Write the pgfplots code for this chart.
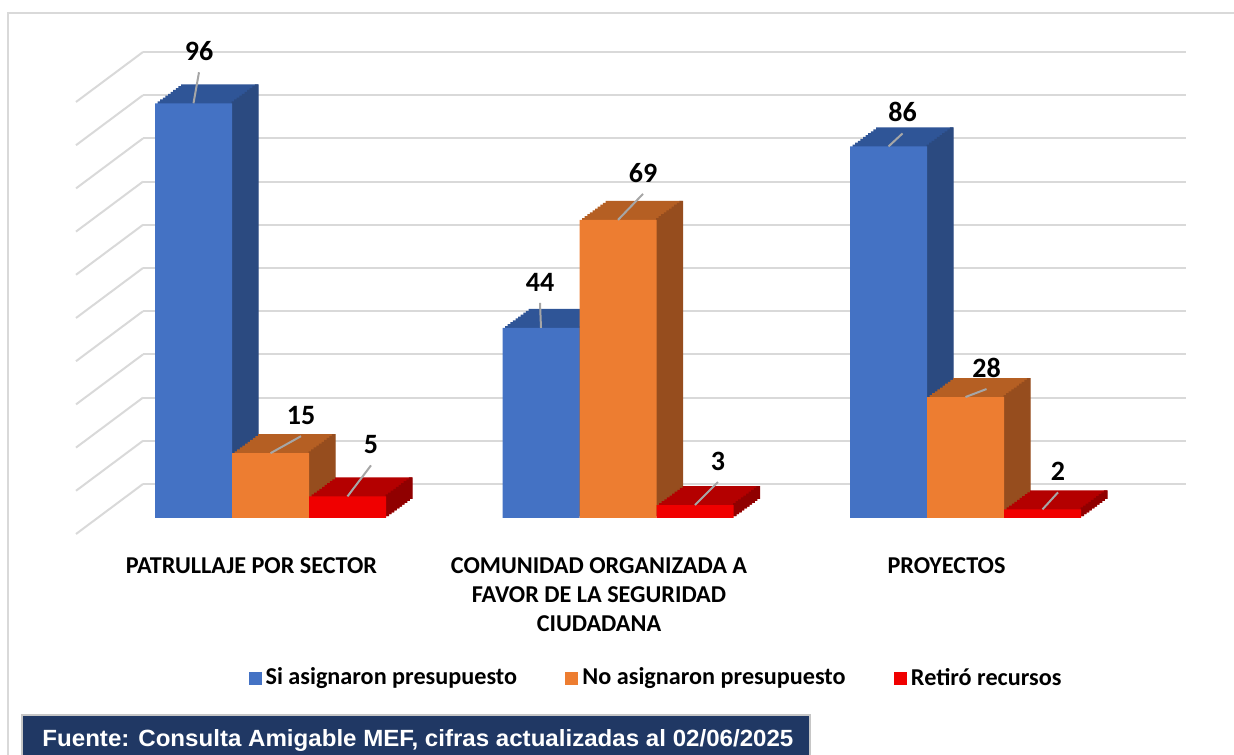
\documentclass[border=0pt]{standalone}
\usepackage{pgfplots}
\pgfplotsset{compat=1.18}
\usepackage{pgfplotstable}
\usepackage{fontspec}
\setmainfont{Carlito}
\newfontfamily\arialf{Liberation Sans}
\usetikzlibrary{calc}

\definecolor{bfront}{HTML}{4472C4}
\definecolor{btop}{HTML}{2F5597}
\definecolor{bside}{HTML}{2B4A80}
\definecolor{ofront}{HTML}{ED7D31}
\definecolor{otop}{HTML}{B55F23}
\definecolor{oside}{HTML}{964D1E}
\definecolor{rfront}{HTML}{F00000}
\definecolor{rtop}{HTML}{B40000}
\definecolor{rside}{HTML}{900000}
\definecolor{gridc}{HTML}{D9D9D9}
\definecolor{srcblue}{HTML}{203864}
\definecolor{leader}{HTML}{A6A6A6}

% x = category, y = value, bs = bar shift (pt), lx/ly = label offset from bar top centre (pt)
\pgfplotstableread{
x y bs lx ly
0 96 -38.5 2.75 21
1 44 -38.5 -0.5 18
2 86 -38.5 7 12
}\tblue
\pgfplotstableread{
x y bs lx ly
0 15 0 15.25 14
1 69 0 12.5 18.5
2 28 0 10.5 9.5
}\torange
\pgfplotstableread{
x y bs lx ly
0 5 38.5 11.75 21
1 3 38.5 11.5 17
2 2 38.5 7.75 14
}\tred

% #1 table, #2 bar shift, #3 strip shift, #4 top colour, #5 side colour, #6 front colour, #7 legend
\newcommand\barseries[7]{%
  \pgfplotsinvokeforeach{1,...,10}{%
    \addplot[forget plot, ybar, bar width=38.5pt, bar shift=#2, fill=#4, draw=none,
      xshift=##1*1.3pt, yshift=##1*0.95pt] table[x=x,y=y]{#1};
  }%
  \pgfplotsinvokeforeach{1,...,10}{%
    \addplot[forget plot, ybar, bar width=1.8pt, bar shift=#3, fill=#5, draw=none,
      xshift=##1*1.3pt, yshift=##1*0.95pt] table[x=x,y=y]{#1};
  }%
  \addplot[ybar, bar width=38.5pt, bar shift=#2, fill=#6, draw=none,
    nodes near coords,
    visualization depends on={\thisrow{bs}\as\bs},
    visualization depends on={\thisrow{lx}\as\lx},
    visualization depends on={\thisrow{ly}\as\ly}] table[x=x,y=y]{#1};
  \addlegendentry{#7}%
}

\begin{document}
\begin{tikzpicture}
\useasboundingbox (0,0) rectangle (617pt,377pt);
% chart frame
\draw[gridc, line width=1pt] (4pt,-2pt) -- (4pt,370.5pt) -- (620pt,370.5pt);

% back wall with gridlines
\begin{axis}[
  at={(71.5pt,135pt)}, anchor=south west,
  width=521.5pt, height=216pt, scale only axis,
  xmin=0, xmax=1, ymin=0, ymax=100,
  ytick={0,10,...,100}, yticklabels={}, xtick=\empty,
  ymajorgrids, grid style={draw=gridc, line width=1pt},
  axis line style={draw=none}, major tick length=0pt,
  clip=false]
  \pgfplotsinvokeforeach{0,10,...,100}{%
    \draw[gridc, line width=1pt] (axis cs:0,#1) -- ++(-33.5pt,-25pt);
  }
\end{axis}

% bars
\begin{axis}[
  at={(31pt,118pt)}, anchor=south west,
  width=556pt, height=237.6pt, scale only axis,
  xmin=-0.6, xmax=2.6, ymin=0, ymax=110,
  axis line style={draw=none}, major tick length=0pt,
  ytick=\empty, xtick={0,1,2},
  /pgf/number format/assume math mode=true,
  xticklabels={{PATRULLAJE POR SECTOR},{COMUNIDAD ORGANIZADA A\\FAVOR DE LA SEGURIDAD\\CIUDADANA},{PROYECTOS}},
  xticklabel style={font=\fontsize{12.1}{14.5}\selectfont\bfseries, align=center,
    inner sep=0pt, anchor=north, xshift=-9.5pt, yshift=-19.5pt},
  clip=false,
  nodes near coords style={font=\fontsize{14}{16}\selectfont\bfseries, anchor=south,
    inner sep=0pt, xshift=\bs pt+\lx pt, yshift=\ly pt,
    append after command={(\tikzlastnode.south) ++(0pt,-5.5pt)
      edge[draw=leader, line width=1pt] ($(\tikzlastnode.south)+(-\lx pt,-\ly pt)$)}},
  legend columns=3,
  legend style={draw=none, fill=none, at={(0.5351,-0.3367)}, anchor=center,
    font=\fontsize{12.1}{14}\selectfont\bfseries,
    nodes={inner xsep=2pt, inner ysep=1pt},
    /tikz/every even column/.append style={column sep=22.25pt}},
  legend image code/.code={\fill[#1] (0pt,-3.25pt) rectangle (6.5pt,3.25pt);},
]
  \barseries{\tblue}{-38.5pt}{-19.9pt}{btop}{bside}{bfront}{Si asignaron presupuesto}
  \barseries{\torange}{0pt}{18.6pt}{otop}{oside}{ofront}{No asignaron presupuesto}
  \barseries{\tred}{38.5pt}{57.1pt}{rtop}{rside}{rfront}{Retiró recursos}
\end{axis}

% source box
\fill[srcblue] (11pt,-2pt) rectangle (405pt,19.5pt);
\draw[gray!45, line width=1pt] (11pt,-2pt) -- (11pt,19.5pt) -- (405pt,19.5pt) -- (405pt,-2pt);
\node[anchor=base west, inner sep=0pt, text=white] at (21pt,4pt)
  {\resizebox{375.5pt}{8.5pt}{\arialf\bfseries Fuente: Consulta Amigable MEF, cifras actualizadas al 02/06/2025}};
\end{tikzpicture}
\end{document}
